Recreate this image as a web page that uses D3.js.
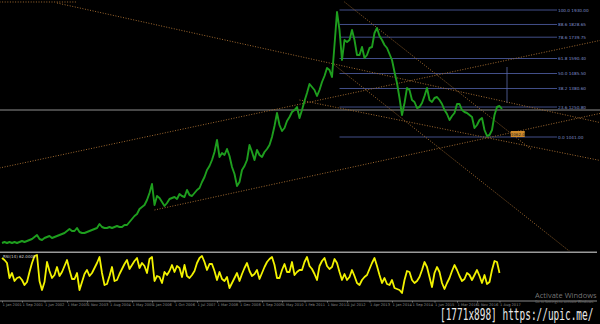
<!DOCTYPE html>
<html><head><meta charset="utf-8">
<script src="https://cdn.jsdelivr.net/npm/d3@7"></script>
<style>html,body{margin:0;padding:0;background:#000;overflow:hidden}</style>
</head><body><svg id="c" width="600" height="324"></svg>
<script>
// ---- DATA ----
// price, one value per bar (bar 0 .. 200)
const priceValues = [
299,306,299,306,299,306,299,306,313,306,313,320,327,341,355,327,320,334,341,348,
334,341,348,355,362,369,383,397,383,383,404,376,369,369,376,383,390,397,404,432,
411,404,404,411,404,411,418,411,411,425,425,446,467,488,502,537,551,565,600,649,
712,565,628,614,586,558,579,607,614,621,607,642,628,621,670,635,628,649,670,684,
726,761,810,838,880,936,1020,901,929,915,957,908,831,782,698,726,810,838,880,985,
936,880,950,915,901,936,957,985,1041,1118,1209,1125,1083,1104,1153,1181,1216,1230,1251,1174,
1230,1293,1349,1412,1391,1370,1328,1370,1426,1468,1524,1510,1461,1685,1916,1790,1580,1720,1706,1720,
1790,1720,1615,1615,1671,1594,1615,1664,1671,1769,1804,1748,1720,1685,1664,1622,1580,1496,1419,1314,
1195,1279,1384,1370,1300,1286,1244,1251,1279,1328,1384,1300,1286,1314,1321,1300,1272,1230,1202,1160,
1188,1209,1272,1272,1230,1216,1209,1195,1181,1104,1125,1160,1174,1090,1048,1055,1090,1195,1251,1258,
1237
];
// oscillator, one value per bar (bar 0 .. 199)
const oscValues = [
92,88,82,52,62,46,52,54,48,38,44,64,82,96,98,46,28,44,84,66,
52,58,74,56,64,76,88,68,50,50,62,28,44,60,68,56,62,72,82,94,
62,38,40,56,74,46,48,60,70,80,88,70,78,86,92,72,82,76,62,90,
94,46,56,54,42,64,58,66,78,64,76,72,54,78,56,52,58,66,82,92,
96,84,68,80,80,66,48,64,50,46,54,32,42,52,62,46,60,72,82,66,
56,60,68,50,62,74,84,90,94,78,52,52,68,80,64,64,84,58,64,68,
68,84,94,76,70,60,48,76,86,92,76,70,74,90,82,64,48,60,48,54,
68,56,42,38,48,54,58,70,82,92,76,58,42,52,40,38,48,32,30,28,
22,48,66,64,48,42,46,54,68,84,74,54,34,62,74,64,42,30,42,52,
66,78,68,56,46,50,62,58,48,58,68,56,42,58,40,44,68,86,84,62
];
const oscName = "RSI(14) 62.0000";
// Fibonacci retracement
const fibLevels = [0, 23.6, 38.2, 50, 61.8, 78.6, 88.6, 100];
const fibLow = 1041, fibHigh = 1930;
const fibStartBar = 135, fibEndBar = 222;
// trend lines: [bar0, price0, bar1, price1]
const trendLines = [
  [-1, 1986, 30, 1986],
  [22, 1979, 240, 1139],
  [-1, 824, 240, 1720],
  [61, 530, 240, 1209],
  [137, 1986, 212, 950],
  [133, 1545, 240, 61],
  [119, 1300, 240, 874]
];
const horizontalLevel = 1230;
const verticalMarker = [202, 1531, 1279];
const priceTag = [203.5, 1062, "1062.0"];
// time axis ticks
const tickBars = [0,8,17,26,34,43,52,60,69,78,86,95,104,112,121,130,138,147,156,164,173,182,190,199];
const tickLabels = ["1 Jan 2001","1 Sep 2001","1 Jun 2002","1 Mar 2003","1 Nov 2003","1 Aug 2004",
 "1 May 2005","1 Jan 2006","1 Oct 2006","1 Jul 2007","1 Mar 2008","1 Dec 2008","1 Sep 2009",
 "1 May 2010","1 Feb 2011","1 Nov 2011","1 Jul 2012","1 Apr 2013","1 Jan 2014","1 Sep 2014",
 "1 Jun 2015","1 Mar 2016","1 Nov 2016","1 Aug 2017"];

// ---- DRAW ----
const svg = d3.select("#c");
svg.append("rect").attr("width",600).attr("height",324).attr("fill","#000");

const x = d3.scaleLinear().domain([0, 239.2]).range([2, 600]);
const yP = d3.scaleLinear().domain([236, 2000]).range([252, 0]);
const yO = d3.scaleLinear().domain([0, 100]).range([304, 254]);

const defs = svg.append("defs");
defs.append("clipPath").attr("id","cm").append("rect").attr("x",0).attr("y",0).attr("width",600).attr("height",251);
defs.append("clipPath").attr("id","co").append("rect").attr("x",0).attr("y",253).attr("width",600).attr("height",47);

const main = svg.append("g").attr("clip-path","url(#cm)");

// horizontal level
main.append("line").attr("x1",0).attr("x2",600)
  .attr("y1",yP(horizontalLevel)).attr("y2",yP(horizontalLevel))
  .attr("stroke","#b4b4b4").attr("stroke-width",0.8);

// fib levels
const fibG = main.append("g");
fibLevels.forEach(l=>{
  const p = fibLow + (fibHigh-fibLow)*l/100;
  fibG.append("line").attr("x1",x(fibStartBar)).attr("x2",x(fibEndBar))
    .attr("y1",yP(p)).attr("y2",yP(p)).attr("stroke","#4a5898").attr("stroke-width",0.9);
  fibG.append("text").attr("x",x(fibEndBar)+1).attr("y",yP(p)+1.5)
    .attr("font-family","DejaVu Sans").attr("font-size",4.2).attr("fill","#7f8cc8")
    .text(l.toFixed(1)+" "+p.toFixed(2));
});

// vertical marker
main.append("line").attr("x1",x(verticalMarker[0])).attr("x2",x(verticalMarker[0]))
  .attr("y1",yP(verticalMarker[1])).attr("y2",yP(verticalMarker[2]))
  .attr("stroke","#5a6aa8").attr("stroke-width",0.8);

// trend lines
trendLines.forEach(t=>{
  main.append("line").attr("x1",x(t[0])).attr("y1",yP(t[1])).attr("x2",x(t[2])).attr("y2",yP(t[3]))
    .attr("stroke","#a06a30").attr("stroke-width",1).attr("stroke-dasharray","1,1.6");
});

// price line
const pl = d3.line().x((d,i)=>x(i)).y(d=>yP(d));
main.append("path").datum(priceValues).attr("d",pl).attr("fill","none")
  .attr("stroke","#1e9e1e").attr("stroke-width",1.9).attr("stroke-linejoin","round");

// price tag
const tg = main.append("g");
tg.append("rect").attr("x",x(priceTag[0])).attr("y",yP(priceTag[1])-3).attr("width",14).attr("height",6)
  .attr("fill","#d08a2a");
tg.append("text").attr("x",x(priceTag[0])+7).attr("y",yP(priceTag[1])+1.5).attr("text-anchor","middle")
  .attr("font-family","DejaVu Sans").attr("font-size",4).attr("fill","#222").text(priceTag[2]);

// panel separators
svg.append("line").attr("x1",0).attr("x2",597).attr("y1",252.3).attr("y2",252.3)
  .attr("stroke","#9a9a9a").attr("stroke-width",1.4);
svg.append("line").attr("x1",0).attr("x2",597).attr("y1",301).attr("y2",301)
  .attr("stroke","#8a8a8a").attr("stroke-width",1);

// oscillator
const osc = svg.append("g").attr("clip-path","url(#co)");
const ol = d3.line().x((d,i)=>x(i)).y(d=>yO(d));
osc.append("path").datum(oscValues).attr("d",ol).attr("fill","none")
  .attr("stroke","#f2f200").attr("stroke-width",1.8).attr("stroke-linejoin","round");
svg.append("text").attr("x",3).attr("y",258).attr("font-family","DejaVu Sans").attr("font-size",4)
  .attr("fill","#cfcfcf").text(oscName);

// time axis
const ax = d3.axisBottom(x).tickValues(tickBars).tickFormat((d,i)=>tickLabels[i]).tickSize(1.5).tickPadding(0.5);
const axg = svg.append("g").attr("transform","translate(0,301)").call(ax);
axg.select(".domain").remove();
axg.selectAll(".tick line").attr("stroke","#777");
axg.selectAll(".tick text").attr("text-anchor","start").attr("font-family","DejaVu Sans")
  .attr("font-size",3.6).attr("fill","#8a8a8a").attr("dy","0.7em");

// overlays
svg.append("text").attr("x",535).attr("y",297.5).attr("font-family","Open Sans").attr("font-size",7.5)
  .attr("fill","#8a8a8a").attr("fill-opacity",0.85).text("Activate Windows");
svg.append("text").attr("x",535).attr("y",302.5).attr("font-family","Open Sans").attr("font-size",3.6)
  .attr("fill","#777").text("Go to Settings to activate Windows.");
svg.append("text").attr("transform","translate(440,320) scale(0.63,1)")
  .attr("font-family","DejaVu Sans Mono").attr("font-size",15).attr("fill","#e8e8e8")
  .text("[1771x898] https://upic.me/");
</script></body></html>
